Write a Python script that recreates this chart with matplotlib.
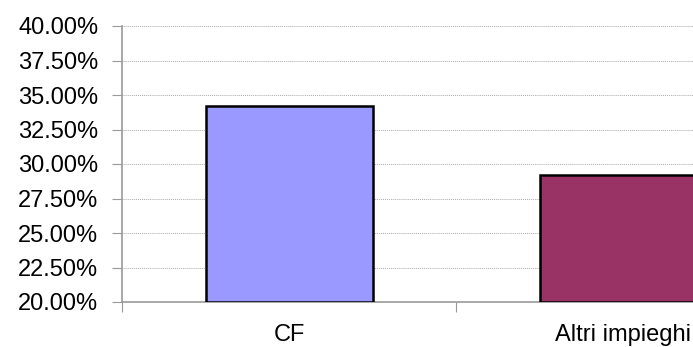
import matplotlib.pyplot as plt
from matplotlib.ticker import FixedLocator, FuncFormatter

categories = ["CF", "Altri impieghi"]
shares = [34.2, 29.2]
bar_colors = ["#9999FF", "#993366"]
y_ticks = [20.0, 22.5, 25.0, 27.5, 30.0, 32.5, 35.0, 37.5, 40.0]

plt.rcParams['font.family'] = ['Liberation Sans', 'DejaVu Sans']

fig = plt.figure(figsize=(6.93, 3.47), dpi=100)
# axes runs off the right edge of the figure, so the second bar is clipped
ax = fig.add_axes([122 / 693, 45 / 347, 668 / 693, 276 / 347])

x = range(len(categories))
ax.bar(x, [v - 20 for v in shares], bottom=20, width=0.5,
       color=bar_colors, edgecolor="black", linewidth=1.8, zorder=3)

ax.set_xlim(-0.5, 1.5)
ax.set_ylim(20, 40)
ax.yaxis.set_major_locator(FixedLocator(y_ticks))
ax.yaxis.set_major_formatter(FuncFormatter(lambda v, p: f"{v:.2f}%"))
ax.grid(axis="y", color="#aaaaaa", linestyle=(0, (1, 1)), linewidth=0.7, zorder=0)

ax.xaxis.set_major_locator(FixedLocator([-0.5, 0.5, 1.5]))
ax.xaxis.set_major_formatter(FuncFormatter(lambda v, p: ""))
ax.xaxis.set_minor_locator(FixedLocator(list(x)))
ax.set_xticklabels(categories, minor=True)
ax.tick_params(axis="x", which="minor", length=0, pad=16, labelsize=17)
ax.tick_params(axis="x", which="major", length=7, color="#999999")
ax.tick_params(axis="y", length=7, color="#999999", labelsize=17, pad=10)

for side in ["top", "right"]:
    ax.spines[side].set_visible(False)
for side in ["left", "bottom"]:
    ax.spines[side].set_color("#999999")
    ax.spines[side].set_linewidth(1.2)

fig.savefig("out.png", dpi=100)
